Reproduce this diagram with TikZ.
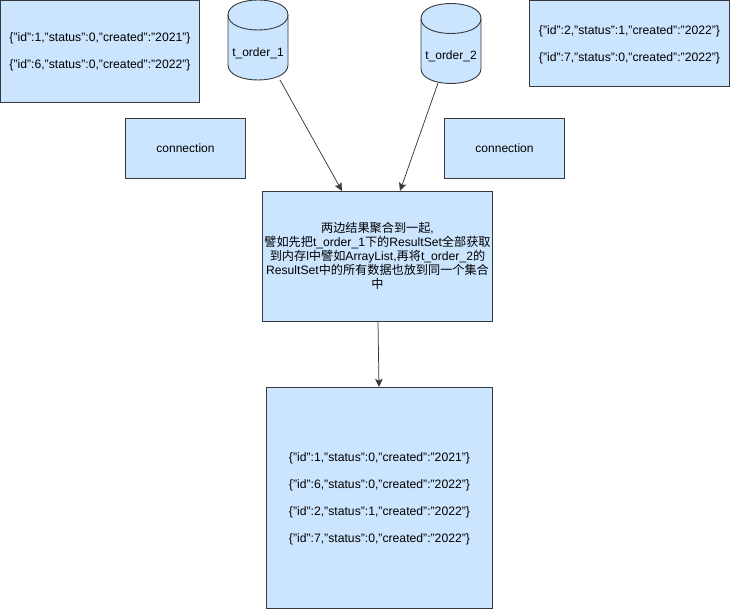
\documentclass[tikz,border=0pt]{standalone}
\usepackage{fontspec}
\setmainfont{Liberation Sans}
\newfontfamily\cjk{Noto Sans CJK SC}
\usetikzlibrary{arrows.meta}
\definecolor{boxfill}{HTML}{CCE5FF}
\definecolor{boxline}{HTML}{36393D}
\newcommand\dropline{\rule{0pt}{11.2pt}}
\tikzset{
  databox/.style={draw=boxline,fill=boxfill,line width=0.9pt,align=center,inner sep=0pt,font=\fontsize{12.2}{27}\selectfont},
  dbbody/.style={draw=boxline,fill=boxfill,line width=0.9pt},
  dblabel/.style={inner sep=0pt,minimum width=60pt,minimum height=80pt,font=\fontsize{12}{14}\selectfont},
  link/.style={draw=boxline,line width=0.75pt,-{Stealth[length=8pt,width=7.5pt,inset=1.5pt]}},
  dbcyl/.pic={
    \path[dbbody] (0,15) .. controls (0,-5) and (60,-5) .. (60,15) -- (60,65)
      .. controls (60,85) and (0,85) .. (0,65) -- cycle;
    \path[draw=boxline,line width=0.9pt] (0,15) .. controls (0,35) and (60,35) .. (60,15);
  }
}
\begin{document}
\begin{tikzpicture}[x=1pt,y=-1pt]
\useasboundingbox (0,0) rectangle (730,609);
% boxes
\node[databox,minimum width=199pt,minimum height=102pt] (left) at (100,51)
  {\dropline\{"id":1,"status":0,"created":"2021"\}\\\{"id":6,"status":0,"created":"2022"\}};
\node[databox,minimum width=199.5pt,minimum height=86.5pt] (right) at (629.5,43.5)
  {\dropline\{"id":2,"status":1,"created":"2022"\}\\\{"id":7,"status":0,"created":"2022"\}};
\node[databox,minimum width=120pt,minimum height=60pt,font=\fontsize{12}{14}\selectfont] (connA) at (185.5,148.5) {connection};
\node[databox,minimum width=120pt,minimum height=60pt,font=\fontsize{12}{14}\selectfont] (connB) at (504.5,148.5) {connection};
\node[databox,minimum width=229.5pt,minimum height=130pt,font=\fontsize{12.15}{14}\selectfont] (merge) at (377.5,256.3)
  {{\cjk 两边结果聚合到一起},\\{\cjk 譬如先把}t\_order\_1{\cjk 下的}ResultSet{\cjk 全部获取}\\{\cjk 到内存}l{\cjk 中譬如}ArrayList,{\cjk 再将}t\_order\_2{\cjk 的}\\ResultSet{\cjk 中的所有数据也放到同一个集合}\\{\cjk 中}};
\node[databox,minimum width=225.5pt,minimum height=221pt] (result) at (379.5,497.8)
  {\dropline\{"id":1,"status":0,"created":"2021"\}\\\{"id":6,"status":0,"created":"2022"\}\\\{"id":2,"status":1,"created":"2022"\}\\\{"id":7,"status":0,"created":"2022"\}};
% cylinders
\pic at (228,0) {dbcyl};
\node[dblabel] (orderA) at (258,53.5) {t\_order\_1};
\pic at (421,3.5) {dbcyl};
\node[dblabel] (orderB) at (451,56.5) {t\_order\_2};
% connector ends
\coordinate (tailA) at (280,80);
\coordinate (tailB) at (438,83);
\coordinate (headA) at (342,191);
\coordinate (headB) at (400,191);
\coordinate (tailC) at (378,321.3);
\coordinate (headC) at (379,387);
\draw[link] (tailA) -- (headA);
\draw[link] (tailB) -- (headB);
\draw[link] (tailC) -- (headC);
\end{tikzpicture}
\end{document}
